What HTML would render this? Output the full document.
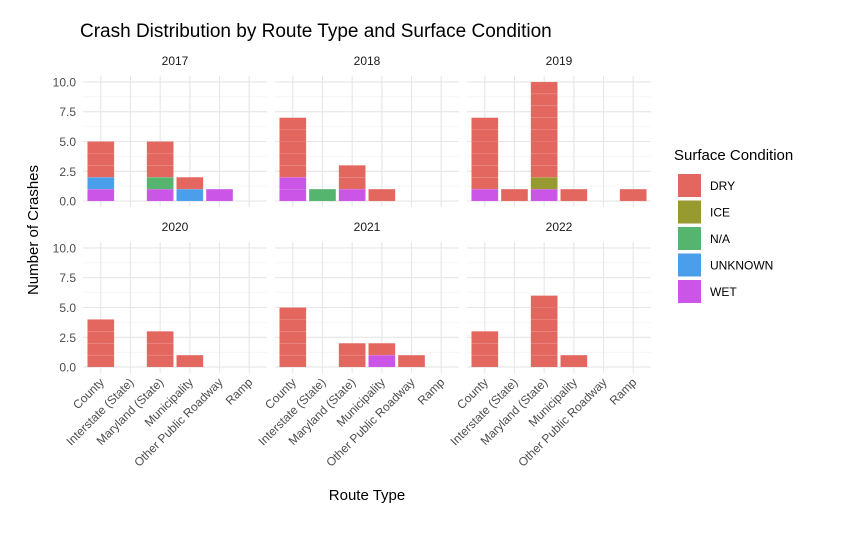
<!DOCTYPE html>
<html><head><meta charset="utf-8"><style>
body{margin:0;background:#fff}
svg text{font-family:"Liberation Sans",Arial,sans-serif}
</style></head><body>
<svg id="c" width="852" height="530"></svg>
<script>
const categories=["County","Interstate (State)","Maryland (State)","Municipality","Other Public Roadway","Ramp"];
const years=["2017","2018","2019","2020","2021","2022"];
const conditions=["DRY","ICE","N/A","UNKNOWN","WET"];
const colors=["#E4675F","#979A2F","#55B46E","#4B9EE9","#CB55E6"];
// counts per year: [category][condition] order DRY,ICE,N/A,UNKNOWN,WET
const y2017=[[3,0,0,1,1],[0,0,0,0,0],[3,0,1,0,1],[1,0,0,1,0],[0,0,0,0,1],[0,0,0,0,0]];
const y2018=[[5,0,0,0,2],[0,0,1,0,0],[2,0,0,0,1],[1,0,0,0,0],[0,0,0,0,0],[0,0,0,0,0]];
const y2019=[[6,0,0,0,1],[1,0,0,0,0],[8,1,0,0,1],[1,0,0,0,0],[0,0,0,0,0],[1,0,0,0,0]];
const y2020=[[4,0,0,0,0],[0,0,0,0,0],[3,0,0,0,0],[1,0,0,0,0],[0,0,0,0,0],[0,0,0,0,0]];
const y2021=[[5,0,0,0,0],[0,0,0,0,0],[2,0,0,0,0],[1,0,0,0,1],[1,0,0,0,0],[0,0,0,0,0]];
const y2022=[[3,0,0,0,0],[0,0,0,0,0],[6,0,0,0,0],[1,0,0,0,0],[0,0,0,0,0],[0,0,0,0,0]];
const yTicks=[0,2.5,5,7.5,10];
const yearData=[y2017,y2018,y2019,y2020,y2021,y2022];

const svg=document.getElementById('c');
const NS='http://www.w3.org/2000/svg';
function el(t,a,p){const e=document.createElementNS(NS,t);for(const k in a)e.setAttribute(k,a[k]);(p||svg).appendChild(e);return e;}
const panelX=[83,275,467], panelW=184;
const panelTop=[76,242], panelH=131;
const step=panelW/6.2;
function sx(p,i){return panelX[p]+step*(i+0.6);}
function sy(r,v){return panelTop[r]+panelH*(10.5-v)/11;}

yearData.forEach((data,k)=>{
  const p=k%3,r=Math.floor(k/3);
  const g=el('g',{});
  
  
  for(let v=1.25;v<10.5;v+=2.5){el('line',{x1:panelX[p],x2:panelX[p]+panelW,y1:sy(r,v),y2:sy(r,v),stroke:'#f0f0f0','stroke-width':0.6},g);}
  yTicks.forEach(v=>{el('line',{x1:panelX[p],x2:panelX[p]+panelW,y1:sy(r,v),y2:sy(r,v),stroke:'#e6e6e6','stroke-width':1.1},g);});
  categories.forEach((c,i)=>{el('line',{x1:sx(p,i),x2:sx(p,i),y1:panelTop[r],y2:panelTop[r]+panelH,stroke:'#e6e6e6','stroke-width':1.1},g);});
  const st=el('text',{x:panelX[p]+panelW/2,y:panelTop[r]-11,'text-anchor':'middle','font-size':12,fill:'#1a1a1a'},g);
  st.textContent=years[k];
  
  
  const bw=step*0.9;
  data.forEach((counts,i)=>{
    let base=0;
    for(let c=conditions.length-1;c>=0;c--){
      for(let u=0;u<counts[c];u++){
        const rc=el('rect',{x:sx(p,i)-bw/2,y:sy(r,base+1),width:bw,height:sy(r,base)-sy(r,base+1),fill:colors[c],stroke:'#fff','stroke-opacity':0.12,'stroke-width':0.6},g);
        
        
        base++;
      }
    }
  });
  if(p===0){yTicks.forEach(v=>{const t=el('text',{x:panelX[0]-7,y:sy(r,v)+4.5,'text-anchor':'end','font-size':12,fill:'#4d4d4d'});t.textContent=v.toFixed(1);});}
  if(r===1){categories.forEach((c,i)=>{const x=sx(p,i)+4,y=panelTop[1]+panelH+10;const t=el('text',{x:x,y:y,'text-anchor':'end','font-size':12,fill:'#4d4d4d',transform:`rotate(-45 ${x} ${y})`});t.textContent=c;});}
});
let t=el('text',{x:80,y:37,'font-size':19,fill:'#000'});t.textContent='Crash Distribution by Route Type and Surface Condition';
t=el('text',{x:367,y:500,'text-anchor':'middle','font-size':15,fill:'#000'});t.textContent='Route Type';
t=el('text',{x:38,y:230,'text-anchor':'middle','font-size':15,fill:'#000',transform:'rotate(-90 38 230)'});t.textContent='Number of Crashes';
t=el('text',{x:674,y:160,'font-size':15,fill:'#000'});t.textContent='Surface Condition';
conditions.forEach((c,i)=>{const y=174+i*26.5;const g=el('g',{});
el('rect',{x:678,y:y,width:23,height:23,fill:colors[i]},g);const tx=el('text',{x:710,y:y+16,'font-size':12,fill:'#000'},g);tx.textContent=c;});
</script>
</body></html>
